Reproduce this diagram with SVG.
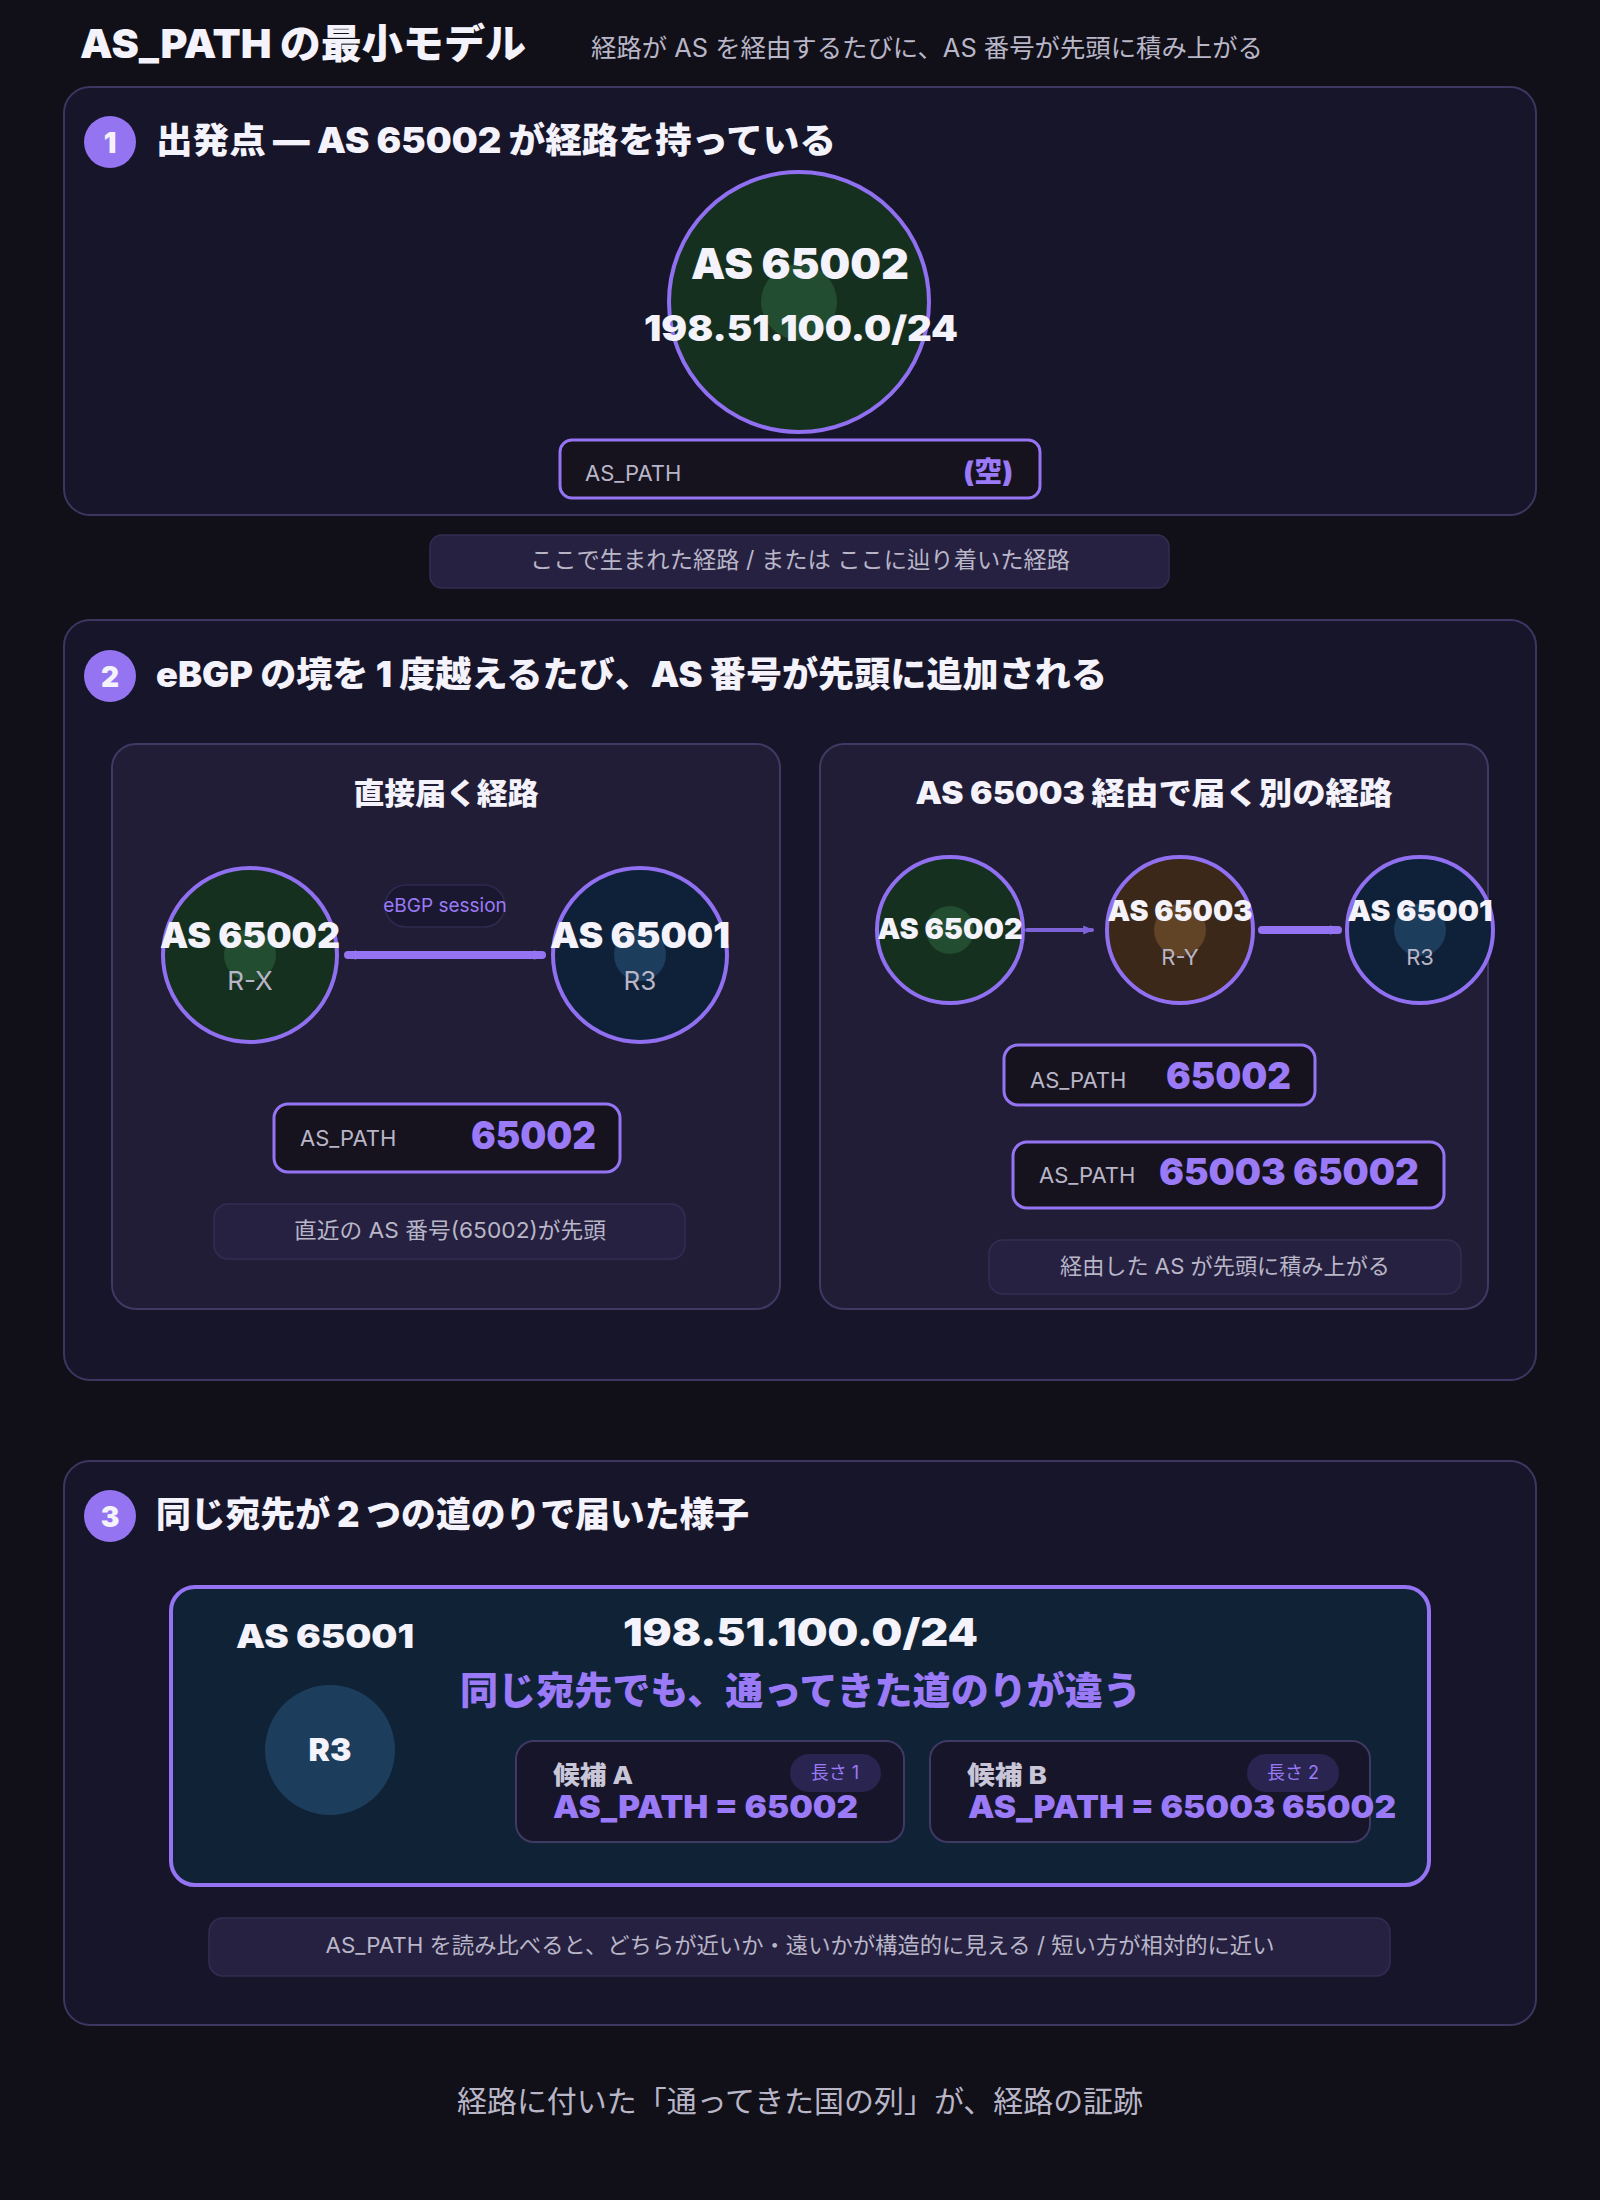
<svg xmlns="http://www.w3.org/2000/svg" width="1600" height="2200" viewBox="0 0 1600 2200">
<defs>
<style>
.bg{fill:#111018}
.panel{fill:#17152a;stroke:#3c3661;stroke-width:2}
.sub{fill:#211d36;stroke:#3f3964;stroke-width:2}
.cap{fill:#262141;stroke:#332d52;stroke-width:1.5}
.pbox{fill:#16131f;stroke:#9474f2;stroke-width:3}
.node{stroke:#9070f0;stroke-width:4}
.badge{fill:#9474f0}
.h{font-family:Inter,"Noto Sans CJK JP",sans-serif;font-weight:900;fill:#f4f2fa}
.t{font-family:Inter,"Noto Sans CJK JP",sans-serif;fill:#b9b6c8}
.pv{font-family:Inter,"Noto Sans CJK JP",sans-serif;font-weight:900;fill:#9a7af6}
.mid{text-anchor:middle}
</style>
<marker id="ah" viewBox="0 0 10 10" refX="7" refY="5" markerUnits="userSpaceOnUse" markerWidth="12" markerHeight="12" orient="auto-start-reverse"><path d="M0,1 L10,5 L0,9 z" fill="#9474f2"/></marker>
<marker id="ahs" viewBox="0 0 10 10" refX="8" refY="5" markerUnits="userSpaceOnUse" markerWidth="11" markerHeight="11" orient="auto"><path d="M0,1 L10,5 L0,9 z" fill="#7e62d8"/></marker>
</defs>
<rect class="bg" x="0" y="0" width="1600" height="2200"/>

<g id="header">
<text class="h" x="80" y="58" font-size="40" textLength="446" lengthAdjust="spacingAndGlyphs">AS_PATH の最小モデル</text>
<text class="t" x="591" y="57" font-size="25" textLength="672" lengthAdjust="spacingAndGlyphs">経路が AS を経由するたびに、AS 番号が先頭に積み上がる</text>
</g>

<g id="panel1">
<rect class="panel" x="64" y="87" width="1472" height="428" rx="26"/>
<circle class="badge" cx="110" cy="142" r="26"/>
<text class="h mid" x="110" y="153" font-size="28">1</text>
<text class="h" x="156" y="153" font-size="35" textLength="680" lengthAdjust="spacingAndGlyphs">出発点 — AS 65002 が経路を持っている</text>
</g>

<g id="node-as65002-origin">
<circle class="node" cx="799" cy="302" r="130" fill="#16301f"/>
<circle cx="799" cy="302" r="38" fill="#234d30"/>
<text class="h mid" x="800" y="279" font-size="42" textLength="218" lengthAdjust="spacingAndGlyphs">AS 65002</text>
<text class="h mid" x="801" y="341" font-size="35" textLength="314" lengthAdjust="spacingAndGlyphs">198.51.100.0/24</text>
</g>

<g id="aspath-empty">
<rect class="pbox" x="560" y="440" width="480" height="58" rx="12"/>
<text class="t" x="585" y="481" font-size="22">AS_PATH</text>
<text class="pv" x="1013" y="482" font-size="28" text-anchor="end">(空)</text>
</g>

<g id="caption1">
<rect class="cap" x="430" y="535" width="739" height="53" rx="12"/>
<text class="t mid" x="800" y="568" font-size="23" textLength="540" lengthAdjust="spacingAndGlyphs">ここで生まれた経路 / または ここに辿り着いた経路</text>
</g>

<g id="panel2">
<rect class="panel" x="64" y="620" width="1472" height="760" rx="26"/>
<circle class="badge" cx="110" cy="676" r="26"/>
<text class="h mid" x="110" y="687" font-size="28">2</text>
<text class="h" x="156" y="687" font-size="35" textLength="951" lengthAdjust="spacingAndGlyphs">eBGP の境を 1 度越えるたび、AS 番号が先頭に追加される</text>
<rect class="sub" x="112" y="744" width="668" height="565" rx="24"/>
<text class="h mid" x="446" y="804" font-size="30" textLength="185" lengthAdjust="spacingAndGlyphs">直接届く経路</text>
<rect class="sub" x="820" y="744" width="668" height="565" rx="24"/>
<text class="h mid" x="1154" y="804" font-size="31" textLength="477" lengthAdjust="spacingAndGlyphs">AS 65003 経由で届く別の経路</text>
</g>

<g id="connectors">
<line x1="348" y1="955" x2="542" y2="955" stroke="#9474f2" stroke-width="8" stroke-linecap="round" marker-start="url(#ah)" marker-end="url(#ah)"/>
<line x1="1027" y1="930" x2="1092" y2="930" stroke="#7e62d8" stroke-width="4" stroke-linecap="round" marker-end="url(#ahs)"/>
<line x1="1262" y1="930" x2="1338" y2="930" stroke="#9474f2" stroke-width="8" stroke-linecap="round" marker-end="url(#ah)"/>
</g>

<g id="session-label">
<rect x="385" y="885" width="120" height="42" rx="21" fill="#1a1730" stroke="#2f2a4f" stroke-width="1.5"/>
<text class="mid" x="445" y="912" font-size="19" font-family="Inter,'Noto Sans CJK JP',sans-serif" fill="#9a7af6">eBGP session</text>
</g>

<g id="node-rx">
<circle class="node" cx="250" cy="955" r="87" fill="#16301f"/>
<circle cx="250" cy="955" r="26" fill="#234d30"/>
<text class="h mid" x="250" y="948" font-size="35" textLength="180" lengthAdjust="spacingAndGlyphs">AS 65002</text>
<text class="t mid" x="250" y="990" font-size="26">R-X</text>
</g>

<g id="node-r3-a">
<circle class="node" cx="640" cy="955" r="87" fill="#0f2138"/>
<circle cx="640" cy="955" r="26" fill="#1d3d5c"/>
<text class="h mid" x="640" y="948" font-size="35" textLength="180" lengthAdjust="spacingAndGlyphs">AS 65001</text>
<text class="t mid" x="640" y="990" font-size="26">R3</text>
</g>

<g id="aspath-direct">
<rect class="pbox" x="274" y="1104" width="346" height="68" rx="14"/>
<text class="t" x="300" y="1146" font-size="22">AS_PATH</text>
<text class="pv" x="471" y="1149" font-size="38" textLength="125" lengthAdjust="spacingAndGlyphs">65002</text>
</g>

<g id="caption2a">
<rect class="cap" x="214" y="1204" width="471" height="55" rx="14"/>
<text class="t mid" x="450" y="1238" font-size="22" textLength="312" lengthAdjust="spacingAndGlyphs">直近の AS 番号(65002)が先頭</text>
</g>

<g id="node-as65002-b">
<circle class="node" cx="950" cy="930" r="73" fill="#16301f"/>
<circle cx="950" cy="930" r="24" fill="#234d30"/>
<text class="h mid" x="950" y="939" font-size="29" textLength="145" lengthAdjust="spacingAndGlyphs">AS 65002</text>
</g>

<g id="node-ry">
<circle class="node" cx="1180" cy="930" r="73" fill="#3b2818"/>
<circle cx="1180" cy="930" r="26" fill="#614325"/>
<text class="h mid" x="1180" y="921" font-size="29" textLength="145" lengthAdjust="spacingAndGlyphs">AS 65003</text>
<text class="t mid" x="1180" y="965" font-size="22">R-Y</text>
</g>

<g id="node-r3-b">
<circle class="node" cx="1420" cy="930" r="73" fill="#0f2138"/>
<circle cx="1420" cy="930" r="26" fill="#1d3d5c"/>
<text class="h mid" x="1420" y="921" font-size="29" textLength="145" lengthAdjust="spacingAndGlyphs">AS 65001</text>
<text class="t mid" x="1420" y="965" font-size="22">R3</text>
</g>

<g id="aspath-hop1">
<rect class="pbox" x="1004" y="1045" width="311" height="60" rx="14"/>
<text class="t" x="1030" y="1088" font-size="22">AS_PATH</text>
<text class="pv" x="1166" y="1089" font-size="37" textLength="125" lengthAdjust="spacingAndGlyphs">65002</text>
</g>

<g id="aspath-hop2">
<rect class="pbox" x="1013" y="1142" width="431" height="66" rx="14"/>
<text class="t" x="1039" y="1183" font-size="22">AS_PATH</text>
<text class="pv" x="1159" y="1185" font-size="37" textLength="260" lengthAdjust="spacingAndGlyphs">65003 65002</text>
</g>

<g id="caption2b">
<rect class="cap" x="989" y="1240" width="472" height="54" rx="14"/>
<text class="t mid" x="1225" y="1274" font-size="22" textLength="330" lengthAdjust="spacingAndGlyphs">経由した AS が先頭に積み上がる</text>
</g>

<g id="panel3">
<rect class="panel" x="64" y="1461" width="1472" height="564" rx="26"/>
<circle class="badge" cx="110" cy="1516" r="26"/>
<text class="h mid" x="110" y="1527" font-size="28">3</text>
<text class="h" x="156" y="1527" font-size="35" textLength="593" lengthAdjust="spacingAndGlyphs">同じ宛先が 2 つの道のりで届いた様子</text>
</g>

<g id="r3-view">
<rect x="171" y="1587" width="1258" height="298" rx="24" fill="#0f2236" stroke="#9474f2" stroke-width="4"/>
<text class="h" x="236" y="1648" font-size="33" textLength="178" lengthAdjust="spacingAndGlyphs">AS 65001</text>
<text class="h" x="623" y="1646" font-size="38" textLength="355" lengthAdjust="spacingAndGlyphs">198.51.100.0/24</text>
<text class="pv" x="460" y="1704" font-size="38" textLength="681" lengthAdjust="spacingAndGlyphs">同じ宛先でも、通ってきた道のりが違う</text>
<circle cx="330" cy="1750" r="65" fill="#1d3d5c"/>
<text class="h mid" x="330" y="1761" font-size="32">R3</text>
</g>

<g id="candidate-a">
<rect x="516" y="1741" width="388" height="101" rx="18" fill="#17152a" stroke="#3f3964" stroke-width="2"/>
<text x="553" y="1784" font-size="25" font-weight="800" font-family="Inter,'Noto Sans CJK JP',sans-serif" fill="#c9c6d8" textLength="80" lengthAdjust="spacingAndGlyphs">候補 A</text>
<rect x="790" y="1754" width="91" height="38" rx="19" fill="#2a2450"/>
<text class="mid" x="835" y="1779" font-size="18" font-family="Inter,'Noto Sans CJK JP',sans-serif" fill="#9a7af6">長さ 1</text>
<text class="pv" x="553" y="1818" font-size="32" textLength="305" lengthAdjust="spacingAndGlyphs">AS_PATH = 65002</text>
</g>

<g id="candidate-b">
<rect x="930" y="1741" width="440" height="101" rx="18" fill="#17152a" stroke="#3f3964" stroke-width="2"/>
<text x="967" y="1784" font-size="25" font-weight="800" font-family="Inter,'Noto Sans CJK JP',sans-serif" fill="#c9c6d8" textLength="80" lengthAdjust="spacingAndGlyphs">候補 B</text>
<rect x="1247" y="1754" width="92" height="38" rx="19" fill="#2a2450"/>
<text class="mid" x="1293" y="1779" font-size="18" font-family="Inter,'Noto Sans CJK JP',sans-serif" fill="#9a7af6">長さ 2</text>
<text class="pv" x="968" y="1818" font-size="32" textLength="428" lengthAdjust="spacingAndGlyphs">AS_PATH = 65003 65002</text>
</g>

<g id="caption3">
<rect class="cap" x="209" y="1918" width="1181" height="58" rx="14"/>
<text class="t mid" x="800" y="1953" font-size="22" textLength="949" lengthAdjust="spacingAndGlyphs">AS_PATH を読み比べると、どちらが近いか・遠いかが構造的に見える / 短い方が相対的に近い</text>
</g>

<g id="footer">
<text class="t mid" x="800" y="2112" font-size="30" textLength="686" lengthAdjust="spacingAndGlyphs">経路に付いた「通ってきた国の列」が、経路の証跡</text>
</g>
</svg>
